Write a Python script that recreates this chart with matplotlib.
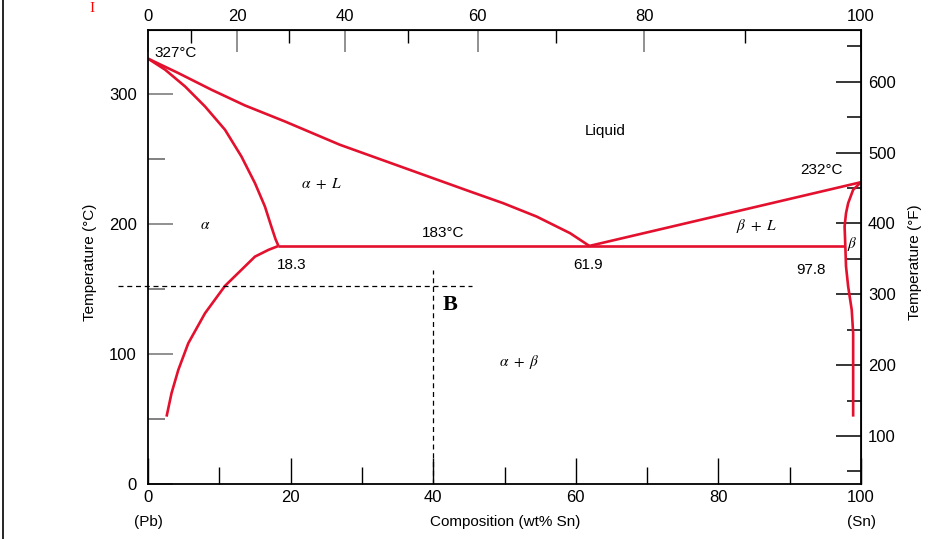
import numpy as np
import matplotlib
matplotlib.use("Agg")
import matplotlib.pyplot as plt
from matplotlib.lines import Line2D

plt.rcParams["font.family"] = ["Liberation Sans", "DejaVu Sans"]
plt.rcParams["mathtext.fontset"] = "stix"

# phase boundaries, (wt% Sn, temperature in C)
liq_left_x = [0, 4.25, 8.93, 13.6, 19.2, 26.9, 45.2, 49.8, 54.5, 59.2, 61.9]
liq_left_t = [327, 315.9, 303, 291, 278.7, 260.8, 224.8, 215.9, 205.6, 192.8, 183]
sol_left_x = [0, 2.4, 5.2, 8.0, 10.8, 13.1, 15.0, 16.4, 17.3, 17.9, 18.3]
sol_left_t = [327, 318.5, 305.6, 290.2, 272.3, 251.8, 231.3, 213.3, 197.9, 188, 183]
solv_left_x = [18.3, 16.9, 15.0, 13.1, 10.8, 8.0, 5.65, 4.25, 3.3, 2.6]
solv_left_t = [183, 180, 174.8, 164.6, 152.3, 131.3, 108.2, 87.7, 69.8, 51.8]
liq_right_x = [61.9, 100]
liq_right_t = [183, 232]
sol_right_x = [100, 98.9, 98.2, 97.9, 97.7, 97.8]
sol_right_t = [232, 226.2, 215.9, 208.2, 198, 183]
solv_right_x = [97.8, 97.9, 98.2, 98.7, 98.9, 98.9]
solv_right_t = [183, 167.2, 151.8, 133.8, 115.9, 51.8]
eutectic_x = [18.3, 97.8]
eutectic_t = [183, 183]

# point B guide lines
b_comp = 40
b_temp = 152
b_hline_x = [-4.2, 45.4]
b_vline_t = [0, 164.6]

wt_ticks = [0, 20, 40, 60, 80, 100]
at_ticks = [0, 20, 40, 60, 80, 100]
f_ticks = [100, 200, 300, 400, 500, 600]

red = "#e3102e"


def wt2at(w):
    w = np.asarray(w, dtype=float)
    a = w / 118.71
    b = (100 - w) / 207.2
    return 100 * a / (a + b)


def at2wt(a):
    a = np.asarray(a, dtype=float)
    m = a * 118.71
    n = (100 - a) * 207.2
    return 100 * m / (m + n)


# right scale as drawn in the source figure
def c2f(t):
    return (np.asarray(t, dtype=float) + 17.54) / 0.5446


def f2c(f):
    return np.asarray(f, dtype=float) * 0.5446 - 17.54


fig = plt.figure(figsize=(9.43, 5.39), dpi=100)
ax = fig.add_axes([148 / 943, 1 - 484 / 539, 713 / 943, 454 / 539])

for xs, ts in [(liq_left_x, liq_left_t), (sol_left_x, sol_left_t),
               (solv_left_x, solv_left_t), (liq_right_x, liq_right_t),
               (sol_right_x, sol_right_t), (solv_right_x, solv_right_t),
               (eutectic_x, eutectic_t)]:
    ax.plot(xs, ts, color=red, lw=1.9, solid_capstyle="butt", solid_joinstyle="round")

ax.plot(b_hline_x, [b_temp, b_temp], color="black", lw=0.9, ls=(0, (4, 3)), clip_on=False)
ax.plot([b_comp, b_comp], b_vline_t, color="black", lw=0.9, ls=(0, (4, 3)))

ax.set_xlim(0, 100)
ax.set_ylim(0, 349)

ax.set_xticks(wt_ticks)
ax.set_xticks([10, 30, 50, 70, 90], minor=True)
ax.set_yticks([0, 100, 200, 300])
ax.set_yticks([50, 150, 250], minor=True)
ax.tick_params(axis="x", which="major", direction="in", length=19, width=1, pad=4,
               labelsize=12, top=False)
ax.tick_params(axis="x", which="minor", direction="in", length=12, width=1, top=False)
ax.tick_params(axis="y", which="major", direction="in", length=18, width=1.3, color="#888888",
               pad=8, labelsize=12, right=False)
ax.tick_params(axis="y", which="minor", direction="in", length=12, width=1.3, color="#777777",
               right=False)
for s in ax.spines.values():
    s.set_linewidth(1.3)

top = ax.secondary_xaxis("top", functions=(wt2at, at2wt))
top.set_xticks(at_ticks)
top.set_xticks([10, 30, 50, 70, 90], minor=True)
top.tick_params(which="major", direction="in", length=16, width=1.3, color="#888888",
                pad=4, labelsize=12)
top.tick_params(which="minor", direction="in", length=9, width=1)

right = ax.secondary_yaxis("right", functions=(c2f, f2c))
right.set_yticks(f_ticks)
right.set_yticks([50, 150, 250, 350, 450, 550, 650], minor=True)
right.tick_params(which="major", direction="in", length=18, width=1.1, pad=5, labelsize=12)
right.tick_params(which="minor", direction="in", length=10, width=1.1)

# region and point labels
ax.text(0.9, 331, "327°C", fontsize=11, ha="left", va="center")
ax.text(64.1, 271.5, "Liquid", fontsize=11, ha="center", va="center")
ax.text(24.4, 230.8, r"$\alpha\ +\ L$", fontsize=11, ha="center", va="center")
ax.text(8.0, 199, r"$\alpha$", fontsize=11, ha="center", va="center")
ax.text(41.4, 193, "183°C", fontsize=11, ha="center", va="center")
ax.text(20.2, 168.5, "18.3", fontsize=11, ha="center", va="center")
ax.text(61.7, 168.5, "61.9", fontsize=11, ha="center", va="center")
ax.text(85.4, 198.5, r"$\beta\ +\ L$", fontsize=11, ha="center", va="center")
ax.text(94.5, 241.5, "232°C", fontsize=11, ha="center", va="center")
ax.text(93.0, 164.6, "97.8", fontsize=11, ha="center", va="center")
ax.text(98.7, 184.5, r"$\beta$", fontsize=11, ha="center", va="center")
ax.text(52.0, 93.8, r"$\alpha\ +\ \beta$", fontsize=11, ha="center", va="center")
ax.text(42.4, 137.5, "B", fontsize=16, fontweight="bold", family="Liberation Serif",
        ha="center", va="center")

fig.text(90 / 943, 1 - 262 / 539, "Temperature (°C)", rotation=90, fontsize=11,
         ha="center", va="center")
fig.text(915 / 943, 1 - 262 / 539, "Temperature (°F)", rotation=90, fontsize=11,
         ha="center", va="center")
fig.text(505 / 943, 1 - 522 / 539, "Composition (wt% Sn)", fontsize=11,
         ha="center", va="center")
fig.text(148 / 943, 1 - 522 / 539, "(Pb)", fontsize=11, ha="center", va="center")
fig.text(861 / 943, 1 - 522 / 539, "(Sn)", fontsize=11, ha="center", va="center")

# stray red mark and page edge from the source scan
fig.text(92 / 943, 0.997, "I", color="red", fontsize=11, family="Liberation Serif",
         ha="center", va="top")
fig.add_artist(Line2D([3 / 943, 3 / 943], [0, 1], color="black", lw=1.2,
                      transform=fig.transFigure))

fig.savefig("out.png", dpi=100)
